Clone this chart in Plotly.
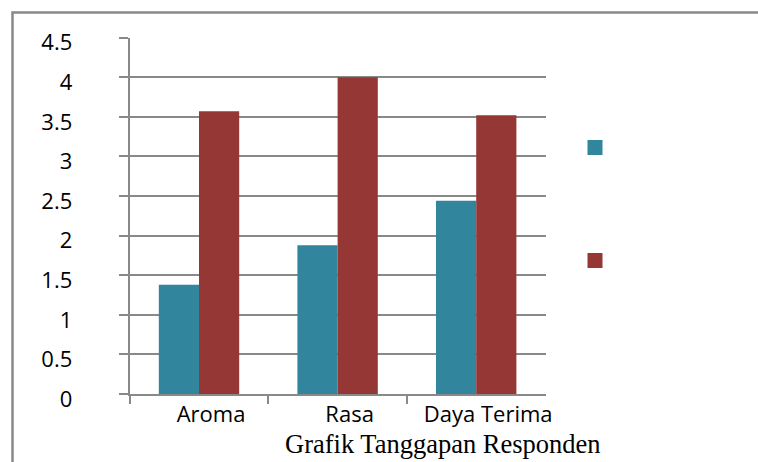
import plotly.graph_objects as go

# Survey response scores per aspect
categories = ["Aroma", "Rasa", "Daya Terima"]
series_a = [1.38, 1.88, 2.44]
series_b = [3.57, 4.00, 3.52]
y_ticks = [0, 0.5, 1, 1.5, 2, 2.5, 3, 3.5, 4, 4.5]
y_tick_labels = ["0", "0.5", "1", "1.5", "2", "2.5", "3", "3.5", "4", "4.5"]
caption = "Grafik Tanggapan Responden"

W, H = 758, 462
TEAL = "#31859C"
RED = "#953735"
GRID = "#898989"
TICK_FONT = dict(family="Open Sans", size=22, color="#000000")

fig = go.Figure()
fig.add_trace(go.Bar(x=categories, y=series_a, marker=dict(color=TEAL, line=dict(width=0)),
                     showlegend=False))
fig.add_trace(go.Bar(x=categories, y=series_b, marker=dict(color=RED, line=dict(width=0)),
                     showlegend=False))

# Legend swatches (unlabelled)
for grp, col in (("a", TEAL), ("b", RED)):
    fig.add_trace(go.Scatter(x=[None], y=[None], mode="markers", name=" ", legendgroup=grp,
                             marker=dict(symbol="square", size=15, color=col)))

fig.update_layout(
    width=W, height=H,
    margin=dict(l=0, r=0, t=0, b=0, autoexpand=False),
    paper_bgcolor="white", plot_bgcolor="white",
    barmode="group", bargap=0.42, bargroupgap=0,
    xaxis=dict(
        domain=[129.7 / W, 545.5 / W], automargin=False,
        showline=True, linecolor=GRID, linewidth=2,
        ticks="outside", tickson="boundaries", ticklen=8, tickwidth=2, tickcolor=GRID,
        showgrid=False, tickfont=TICK_FONT, tickangle=0, ticklabelshift=12,
    ),
    yaxis=dict(
        domain=[1 - 394.0 / H, 1 - 37.7 / H], automargin=False,
        range=[0, 4.5], tickvals=y_ticks, ticktext=y_tick_labels,
        showline=True, linecolor=GRID, linewidth=2,
        ticks="outside", ticklen=9, tickwidth=2, tickcolor=GRID,
        showgrid=True, gridcolor=GRID, gridwidth=2, zeroline=False,
        tickfont=TICK_FONT, ticklabelstandoff=42, ticklabelshift=5,
    ),
    legend=dict(
        x=575 / W, y=1 - 133 / H, xanchor="left", yanchor="top",
        traceorder="grouped", tracegroupgap=94,
        font=dict(size=12), bgcolor="rgba(0,0,0,0)", itemsizing="trace",
    ),
    shapes=[dict(type="rect", xref="paper", yref="paper",
                 x0=12.5 / W, x1=1.02, y0=-0.05, y1=1 - 12.5 / H,
                 line=dict(color=GRID, width=2.5), fillcolor="rgba(0,0,0,0)")],
    annotations=[dict(text=caption, xref="paper", yref="paper",
                      x=443 / W, y=1 - 443.5 / H, xanchor="center", yanchor="middle",
                      showarrow=False,
                      font=dict(family="Liberation Serif", size=26.5, color="#000000"))],
)

fig.write_html("out.html")
